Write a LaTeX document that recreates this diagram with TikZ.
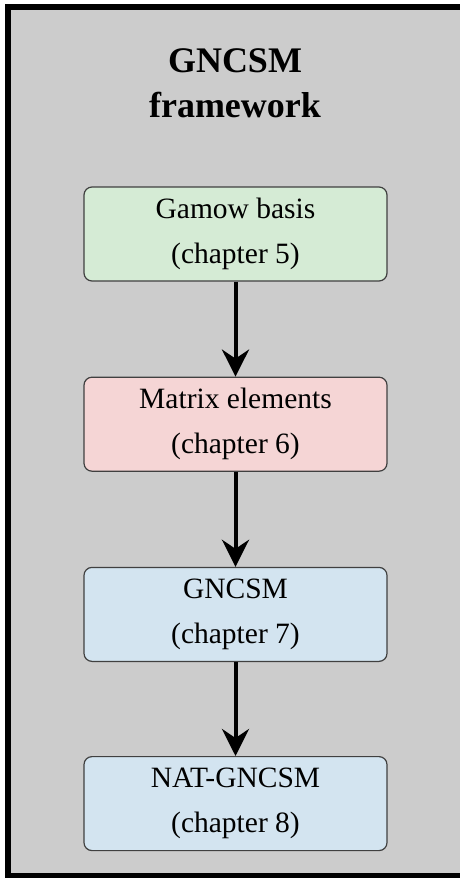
\documentclass[tikz,border=0pt]{standalone}
\usepackage{fontspec}
\setmainfont{Liberation Serif}
\usetikzlibrary{positioning}
\usetikzlibrary{arrows.meta}

\definecolor{framegray}{RGB}{204,204,204}
\definecolor{gamowgreen}{RGB}{213,235,213}
\definecolor{matrixred}{RGB}{245,213,213}
\definecolor{gncsmblue}{RGB}{211,228,240}

\tikzset{
    chapbox/.style={draw=black!75, line width=1.2pt, rounded corners=8pt,
        minimum width=303pt, minimum height=94pt, align=center, inner sep=0pt,
        font=\fontsize{29.5}{45}\selectfont},
    flowarrow/.style={line width=4pt, -{Stealth[length=27pt,width=27pt,inset=9pt]}},
}

\begin{document}
\begin{tikzpicture}[x=1pt,y=1pt]
    \useasboundingbox (0,0) rectangle (460,-878);

    % Background frame
    \draw [line width=6pt, fill=framegray] (8,-7) rectangle (466,-876);

    % Title
    \node [font=\bfseries\fontsize{36}{45}\selectfont, align=center, inner sep=0pt] (title) at (235,-83) {GNCSM\\framework};

    % Chapter boxes
    \node [chapbox, fill=gamowgreen] (gamow) at (235.5,-234) {Gamow basis\\(chapter 5)};
    \node [chapbox, fill=matrixred, below=95pt of gamow] (matrix) {Matrix elements\\(chapter 6)};
    \node [chapbox, fill=gncsmblue, below=95pt of matrix] (gncsm) {GNCSM\\(chapter 7)};
    \node [chapbox, fill=gncsmblue, below=94pt of gncsm] (natgncsm) {NAT-GNCSM\\(chapter 8)};

    % Draw the arrows
    \foreach \a/\b in {gamow/matrix, matrix/gncsm, gncsm/natgncsm} {
        \draw [flowarrow] (\a) -- (\b);
    }
\end{tikzpicture}
\end{document}
